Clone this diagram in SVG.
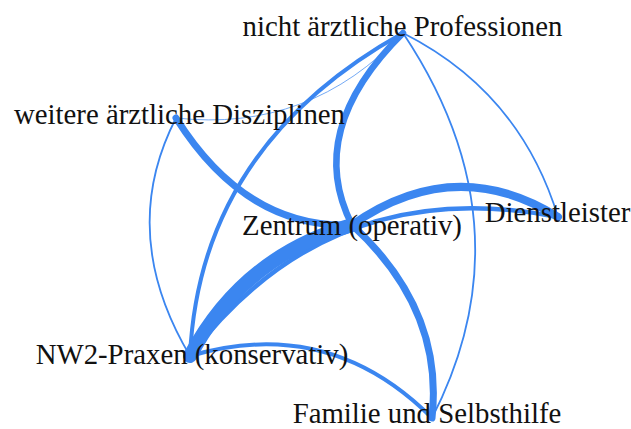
<svg xmlns="http://www.w3.org/2000/svg" width="631" height="429" viewBox="0 0 631 429">
  <style>
    .edge { fill: none; stroke: #3b86f0; stroke-linecap: round; }
    .label { font-family: "Liberation Serif", "Times New Roman", serif; font-size: 28.8px; fill: #111; text-anchor: middle; }
  </style>
  <rect width="631" height="429" fill="#ffffff"/>

  <!-- curved connectors, drawn as quadratic arcs between node centres -->
  <g id="edges">
    <path class="edge" d="M403,33 Q310,133 176,118" stroke-width="1" opacity="0.7"/>
    <path class="edge" d="M403,33 Q200,146 190,356" stroke-width="4"/>
    <path class="edge" d="M403,33 Q304,131 352,225" stroke-width="6.5"/>
    <path class="edge" d="M403,33 Q520,92 558,217" stroke-width="1.8"/>
    <path class="edge" d="M403,33 Q531,225 432,418" stroke-width="1.8"/>
    <path class="edge" d="M176,118 Q246,229 352,225" stroke-width="7"/>
    <path class="edge" d="M176,118 Q117,233 190,356" stroke-width="1.8"/>
    <path class="edge" d="M352,225 Q455,153 558,217" stroke-width="8"/>
    <path class="edge" d="M190,356 Q330,172 558,217" stroke-width="4.5"/>
    <path class="edge" d="M352,225 Q444,309 432,418" stroke-width="7"/>
    <path class="edge" d="M190,356 Q243,256 352,225" stroke-width="14"/>
    <path class="edge" d="M190,356 Q329,315 432,418" stroke-width="4"/>
  </g>

  <g id="node-nicht-aerztliche-professionen">
    <text class="label" x="402.5" y="36">nicht ärztliche Professionen</text>
  </g>
  <g id="node-weitere-aerztliche-disziplinen">
    <text class="label" x="179.5" y="124">weitere ärztliche Disziplinen</text>
  </g>
  <g id="node-zentrum">
    <text class="label" x="352" y="235">Zentrum (operativ)</text>
  </g>
  <g id="node-dienstleister">
    <text class="label" x="557.5" y="222">Dienstleister</text>
  </g>
  <g id="node-nw2-praxen">
    <text class="label" x="192" y="364">NW2-Praxen (konservativ)</text>
  </g>
  <g id="node-familie">
    <text class="label" x="427" y="423">Familie und Selbsthilfe</text>
  </g>
</svg>
